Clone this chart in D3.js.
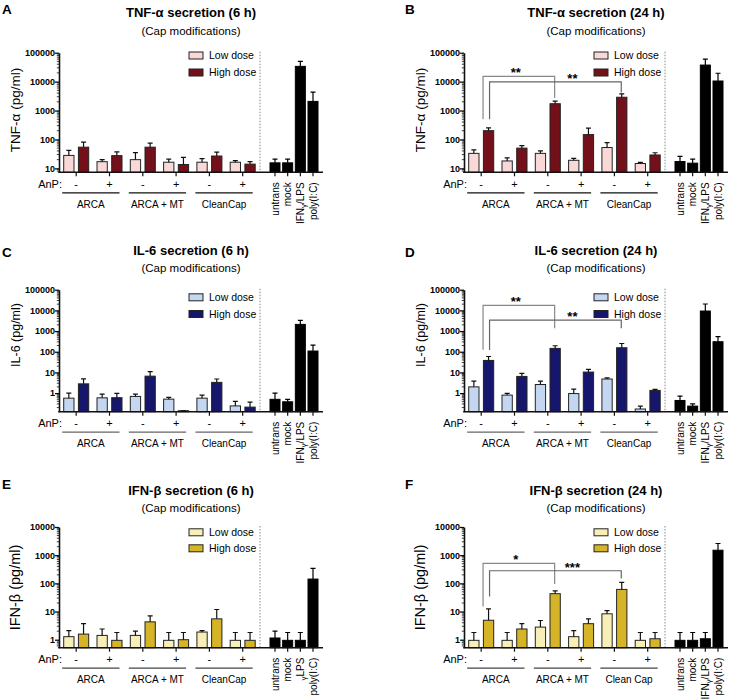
<!DOCTYPE html>
<html><head><meta charset="utf-8">
<script src="https://cdn.jsdelivr.net/npm/d3@7"></script>
<style>body{margin:0;background:#fff} svg{display:block} text{font-family:"Liberation Sans",Arial,sans-serif}</style>
</head><body><svg id="c" width="729" height="699"></svg>
<script>
// ---------- categories ----------
const conditions = ["ARCA -", "ARCA +", "ARCA + MT -", "ARCA + MT +", "CleanCap -", "CleanCap +"];
const anpSigns = ["-", "+", "-", "+", "-", "+"];
const capGroups = ["ARCA", "ARCA + MT", "CleanCap"];
const capGroupsF = ["ARCA", "ARCA +  MT", "Clean Cap"];
const controls = ["untrans", "mock", "IFNγ/LPS", "poly(I:C)"];
const controlsE = ["untrans", "mock", "γLPS", "poly(I:C)"];
const seriesNames = ["Low dose", "High dose"];
const tnfTicks = [10, 100, 1000, 10000, 100000];
const il6Ticks = [1, 10, 100, 1000, 10000, 100000];
const ifnTicks = [1, 10, 100, 1000, 10000];

// ---------- TNF-α 6 h ----------
const tnf6Low = [28, 17, 20, 16.3, 16.3, 16.3];
const tnf6LowTop = [42, 20, 35, 21, 21.7, 18.6];
const tnf6High = [54, 27.5, 54, 13.6, 26.7, 14];
const tnf6HighTop = [81, 37, 75, 24, 36.5, 17];
const tnf6Ctrl = [15.5, 15.5, 33700, 2070];
const tnf6CtrlTop = [21, 21, 49800, 4360];
// ---------- TNF-α 24 h ----------
const tnf24Low = [33, 18, 33, 19, 52.5, 14.7];
const tnf24LowTop = [43.7, 22.9, 40, 22.3, 77, 16];
const tnf24High = [201, 50, 1720, 147, 2880, 29];
const tnf24HighTop = [253, 61, 2120, 247, 3740, 34.6];
const tnf24Ctrl = [17.2, 15.1, 37400, 10500];
const tnf24CtrlTop = [26, 20.7, 59600, 19500];
// ---------- IL-6 6 h ----------
const il66Low = [0.57, 0.59, 0.69, 0.51, 0.57, 0.24];
const il66LowTop = [1.0, 0.9, 0.9, 0.62, 0.8, 0.4];
const il66High = [2.8, 0.6, 6.6, 0.14, 3.3, 0.21];
const il66HighTop = [4.9, 0.96, 11, 0.14, 4.8, 0.37];
const il66Ctrl = [0.5, 0.38, 2100, 108];
const il66CtrlTop = [1.0, 0.5, 3300, 210];
// ---------- IL-6 24 h ----------
const il624Low = [2.0, 0.8, 2.6, 0.95, 4.8, 0.17];
const il624LowTop = [3.8, 0.96, 3.8, 1.56, 5.5, 0.235];
const il624High = [38, 6.4, 145, 10.4, 156, 1.35];
const il624HighTop = [59, 8.9, 195, 14, 250, 1.5];
const il624Ctrl = [0.44, 0.235, 9300, 305];
const il624CtrlTop = [0.72, 0.3, 20300, 535];
// ---------- IFN-β 6 h ----------
const ifn6Low = [1.28, 1.42, 1.42, 0.95, 1.87, 0.95];
const ifn6LowTop = [2.1, 2.4, 2.0, 1.8, 2.1, 1.8];
const ifn6High = [1.58, 0.95, 4.3, 1.0, 5.5, 0.95];
const ifn6HighTop = [3.7, 1.8, 7.0, 1.8, 11.8, 1.8];
const ifn6Ctrl = [1.15, 0.95, 0.95, 142];
const ifn6CtrlTop = [2.0, 1.8, 1.8, 340];
// ---------- IFN-β 24 h ----------
const ifn24Low = [0.95, 0.95, 2.8, 1.28, 8.3, 0.95];
const ifn24LowTop = [1.8, 1.8, 4.8, 2.1, 10.8, 1.8];
const ifn24High = [4.9, 2.4, 43, 3.7, 61, 1.08];
const ifn24HighTop = [12.4, 3.7, 54, 5.5, 108, 1.8];
const ifn24Ctrl = [0.95, 0.95, 1.08, 1500];
const ifn24CtrlTop = [1.8, 1.8, 1.8, 2600];
// ---------- significance brackets (condition index of high-dose bars, levels in pg/ml) ----------
const tnf24Sig = [
  {from: 0, to: 2, level: 15100, fromEnd: 500, toEnd: 2700, label: "**"},
  {from: 0, to: 4, level: 9800, fromEnd: 500, toEnd: 4170, label: "**"}
];
const il624Sig = [
  {from: 0, to: 2, level: 17400, fromEnd: 125, toEnd: 1350, label: "**"},
  {from: 0, to: 4, level: 3400, fromEnd: 120, toEnd: 1350, label: "**"}
];
const ifn24Sig = [
  {from: 0, to: 2, level: 510, fromEnd: 15, toEnd: 95, label: "*"},
  {from: 0, to: 4, level: 280, fromEnd: 34, toEnd: 150, label: "***"}
];

// ---------- layout ----------
const svg = d3.select("#c");
const rows = [
  {top: 52.7, bottom: 172.3, title: 17, sub: 34.8, letter: 13.5, ylabY: 110, ylabSize: 13.5, legLow: 2.8, legHigh: 19.8},
  {top: 289.7, bottom: 411.7, title: 254.8, sub: 272.3, letter: 256.5, ylabY: 335, ylabSize: 12.5, legLow: 7.6, legHigh: 24.3},
  {top: 527, bottom: 647.7, title: 494.8, sub: 511.8, letter: 489, ylabY: 587.5, ylabSize: 14.5, legLow: 5.3, legHigh: 21.3}
];
const cols = [{x0: 59, letterX: 2}, {x0: 464, letterX: 405}];

const panels = [
  {letter: "A", title: "TNF-α secretion (6 h)", ylab: "TNF-α (pg/ml)", row: 0, col: 0, min: 7.3, max: 100000, ticks: tnfTicks,
   low: tnf6Low, lowTop: tnf6LowTop, high: tnf6High, highTop: tnf6HighTop, ctrl: tnf6Ctrl, ctrlTop: tnf6CtrlTop,
   colors: ["#f8d9d8", "#74101a"], groups: capGroups, ctrlNames: controls, sig: [], lineColor: "#111"},
  {letter: "B", title: "TNF-α secretion (24 h)", ylab: "TNF-α (pg/ml)", row: 0, col: 1, min: 7.3, max: 100000, ticks: tnfTicks,
   low: tnf24Low, lowTop: tnf24LowTop, high: tnf24High, highTop: tnf24HighTop, ctrl: tnf24Ctrl, ctrlTop: tnf24CtrlTop,
   colors: ["#f8d9d8", "#74101a"], groups: capGroups, ctrlNames: controls, sig: tnf24Sig, lineColor: "#111"},
  {letter: "C", title: "IL-6 secretion (6 h)", ylab: "IL-6 (pg/ml)", row: 1, col: 0, min: 0.126, max: 100000, ticks: il6Ticks,
   low: il66Low, lowTop: il66LowTop, high: il66High, highTop: il66HighTop, ctrl: il66Ctrl, ctrlTop: il66CtrlTop,
   colors: ["#c5d6f0", "#16166c"], groups: capGroups, ctrlNames: controls, sig: [], lineColor: "#666"},
  {letter: "D", title: "IL-6 secretion (24 h)", ylab: "IL-6 (pg/ml)", row: 1, col: 1, min: 0.126, max: 100000, ticks: il6Ticks,
   low: il624Low, lowTop: il624LowTop, high: il624High, highTop: il624HighTop, ctrl: il624Ctrl, ctrlTop: il624CtrlTop,
   colors: ["#c5d6f0", "#16166c"], groups: capGroups, ctrlNames: controls, sig: il624Sig, lineColor: "#666"},
  {letter: "E", title: "IFN-β secretion (6 h)", ylab: "IFN-β (pg/ml)", row: 2, col: 0, min: 0.52, max: 10000, ticks: ifnTicks,
   low: ifn6Low, lowTop: ifn6LowTop, high: ifn6High, highTop: ifn6HighTop, ctrl: ifn6Ctrl, ctrlTop: ifn6CtrlTop,
   colors: ["#f8efb6", "#d6b428"], groups: capGroups, ctrlNames: controlsE, sig: [], lineColor: "#444"},
  {letter: "F", title: "IFN-β secretion (24 h)", ylab: "IFN-β (pg/ml)", row: 2, col: 1, min: 0.52, max: 10000, ticks: ifnTicks,
   low: ifn24Low, lowTop: ifn24LowTop, high: ifn24High, highTop: ifn24HighTop, ctrl: ifn24Ctrl, ctrlTop: ifn24CtrlTop,
   colors: ["#f8efb6", "#d6b428"], groups: capGroupsF, ctrlNames: controls, sig: ifn24Sig, lineColor: "#444"}
];

function addGammaText(sel, label) {
  const i = label.indexOf("γ");
  if (i < 0) { sel.text(label); return; }
  if (i > 0) sel.append("tspan").text(label.slice(0, i));
  sel.append("tspan").attr("font-size", "8px").attr("dy", 2.5).text("γ");
  sel.append("tspan").attr("dy", -2.5).text(label.slice(i + 1));
}

function drawPanel(p) {
  const r = rows[p.row], c = cols[p.col];
  const x0 = c.x0, W = 264;
  const g = svg.append("g");
  const y = d3.scaleLog().domain([p.min, p.max]).range([r.bottom, r.top]).clamp(true);
  const xPair = d3.scalePoint().domain(d3.range(conditions.length)).range([x0 + 17.2, x0 + 183.7]);
  const xSub = d3.scaleBand().domain(seriesNames).range([-12.5, 12.5]).paddingInner(0.3);
  const xCtrl = d3.scalePoint().domain(d3.range(p.ctrl.length)).range([x0 + 216, x0 + 254]);
  const bw = xSub.bandwidth(), cw = 10;

  // letter, titles
  g.append("text").attr("x", c.letterX).attr("y", r.letter).attr("font-size", 13.5).attr("font-weight", "bold").text(p.letter);
  g.append("text").attr("x", x0 + 132).attr("y", r.title).attr("text-anchor", "middle").attr("font-size", 13).attr("font-weight", "bold").text(p.title);
  g.append("text").attr("x", x0 + 132).attr("y", r.sub).attr("text-anchor", "middle").attr("font-size", 11.5).text("(Cap modifications)");
  g.append("text").attr("transform", `translate(${x0 - 39.5},${r.ylabY}) rotate(-90)`).attr("text-anchor", "middle")
    .attr("font-size", r.ylabSize).text(p.ylab);

  // dashed separator
  g.append("line").attr("x1", x0 + 201).attr("x2", x0 + 201).attr("y1", r.top - 1).attr("y2", r.bottom)
    .attr("stroke", "#888").attr("stroke-width", 1).attr("stroke-dasharray", "1.5,1.5");

  // bars
  const series = [{name: seriesNames[0], v: p.low, t: p.lowTop, col: p.colors[0]}, {name: seriesNames[1], v: p.high, t: p.highTop, col: p.colors[1]}];
  series.forEach(s => {
    const xs = i => xPair(i) + xSub(s.name);
    g.selectAll(null).data(s.v).join("rect")
      .attr("x", (d, i) => xs(i)).attr("width", bw)
      .attr("y", d => y(d)).attr("height", d => r.bottom - y(d))
      .attr("fill", s.col).attr("stroke", "#222").attr("stroke-width", 1);
    g.selectAll(null).data(s.t).join("path")
      .attr("d", (d, i) => { const cx = xs(i) + bw / 2; return `M${cx},${y(s.v[i])}V${y(d)}M${cx - 2.5},${y(d)}H${cx + 2.5}`; })
      .attr("stroke", "#111").attr("stroke-width", 1.2).attr("fill", "none");
  });
  g.selectAll(null).data(p.ctrl).join("rect")
    .attr("x", (d, i) => xCtrl(i) - cw / 2).attr("width", cw)
    .attr("y", d => y(d)).attr("height", d => r.bottom - y(d)).attr("fill", "#000").attr("stroke", "#000");
  g.selectAll(null).data(p.ctrlTop).join("path")
    .attr("d", (d, i) => { const cx = xCtrl(i); return `M${cx},${y(p.ctrl[i])}V${y(d)}M${cx - 2.5},${y(d)}H${cx + 2.5}`; })
    .attr("stroke", "#000").attr("stroke-width", 1.2);

  // y axis
  const ax = g.append("g").attr("transform", `translate(${x0},0)`)
    .call(d3.axisLeft(y).tickValues(p.ticks).tickFormat(d3.format("d")).tickSize(4).tickSizeOuter(0));
  ax.select(".domain").attr("stroke-width", 1.6).attr("stroke", "#111");
  ax.selectAll(".tick line").attr("stroke-width", 1.2);
  ax.selectAll(".tick text").attr("font-size", 9).attr("font-weight", "bold").attr("font-family", "Liberation Sans, Arial, sans-serif").attr("x", -4);
  const minor = [];
  for (let k = Math.floor(Math.log10(p.min)); k < Math.log10(p.max); k++)
    for (let m = 2; m <= 9; m++) { const v = m * Math.pow(10, k); if (v > p.min && v < p.max) minor.push(v); }
  g.selectAll(null).data(minor).join("line").attr("x1", x0 - 2.2).attr("x2", x0).attr("y1", d => y(d)).attr("y2", d => y(d))
    .attr("stroke", "#111").attr("stroke-width", 0.8);

  // x axis
  g.append("line").attr("x1", x0 - 0.8).attr("x2", x0 + W).attr("y1", r.bottom).attr("y2", r.bottom).attr("stroke", "#111").attr("stroke-width", 1.6);
  const xt = d3.range(conditions.length).map(i => xPair(i)).concat(d3.range(p.ctrl.length).map(i => xCtrl(i)));
  g.selectAll(null).data(xt).join("line").attr("x1", d => d).attr("x2", d => d).attr("y1", r.bottom).attr("y2", r.bottom + 4)
    .attr("stroke", "#111").attr("stroke-width", 1.2);

  // AnP row
  g.append("text").attr("x", x0 + 3).attr("y", r.bottom + 15.5).attr("text-anchor", "end").attr("font-size", 11).text("AnP:");
  g.selectAll(null).data(anpSigns).join("text").attr("x", (d, i) => xPair(i)).attr("y", r.bottom + 15.5)
    .attr("text-anchor", "middle").attr("font-size", 11).text(d => d);
  // group lines & labels
  p.groups.forEach((name, gi) => {
    const a = xPair(gi * 2) - 14, b = xPair(gi * 2 + 1) + 10;
    g.append("line").attr("x1", a).attr("x2", b).attr("y1", r.bottom + 20.5).attr("y2", r.bottom + 20.5).attr("stroke", p.lineColor).attr("stroke-width", 1.3);
    g.append("text").attr("x", (a + b) / 2).attr("y", r.bottom + 35.5).attr("text-anchor", "middle").attr("font-size", 10).text(name);
  });
  // control labels
  p.ctrlNames.forEach((name, i) => {
    const t = g.append("text").attr("transform", `translate(${xCtrl(i) + 3.5},${r.bottom + 10}) rotate(-90)`)
      .attr("text-anchor", "end").attr("font-size", 10);
    addGammaText(t, name);
  });

  // legend
  series.forEach((s, k) => {
    const yy = r.top + (k === 0 ? r.legLow : r.legHigh);
    g.append("rect").attr("x", x0 + 130).attr("y", yy - 3.5).attr("width", 14).attr("height", 7)
      .attr("fill", s.col).attr("stroke", "#222").attr("stroke-width", 1);
    g.append("text").attr("x", x0 + 150).attr("y", yy).attr("dy", "0.35em").attr("font-size", 10.5).text(s.name);
  });

  // significance brackets
  p.sig.forEach((s, k) => {
    const xa = xPair(s.from) + xSub(seriesNames[1]) + bw / 2 + (k === 0 ? -5.5 : 1);
    const xb = xPair(s.to) + xSub(seriesNames[1]) + bw / 2 - 0.5;
    const yl = y(s.level);
    g.append("path").attr("d", `M${xa},${y(s.fromEnd)}V${yl}H${xb}V${y(s.toEnd)}`)
      .attr("fill", "none").attr("stroke", k === 0 ? "#888" : "#666").attr("stroke-width", 1.2);
    const lx = (xa + xb) / 2 + (k === 0 ? -3 : 17);
    g.append("text").attr("x", lx).attr("y", yl + 1).attr("text-anchor", "middle").attr("font-size", 13).attr("font-weight", "bold").text(s.label);
  });
}
panels.forEach(drawPanel);
</script>
</body></html>
